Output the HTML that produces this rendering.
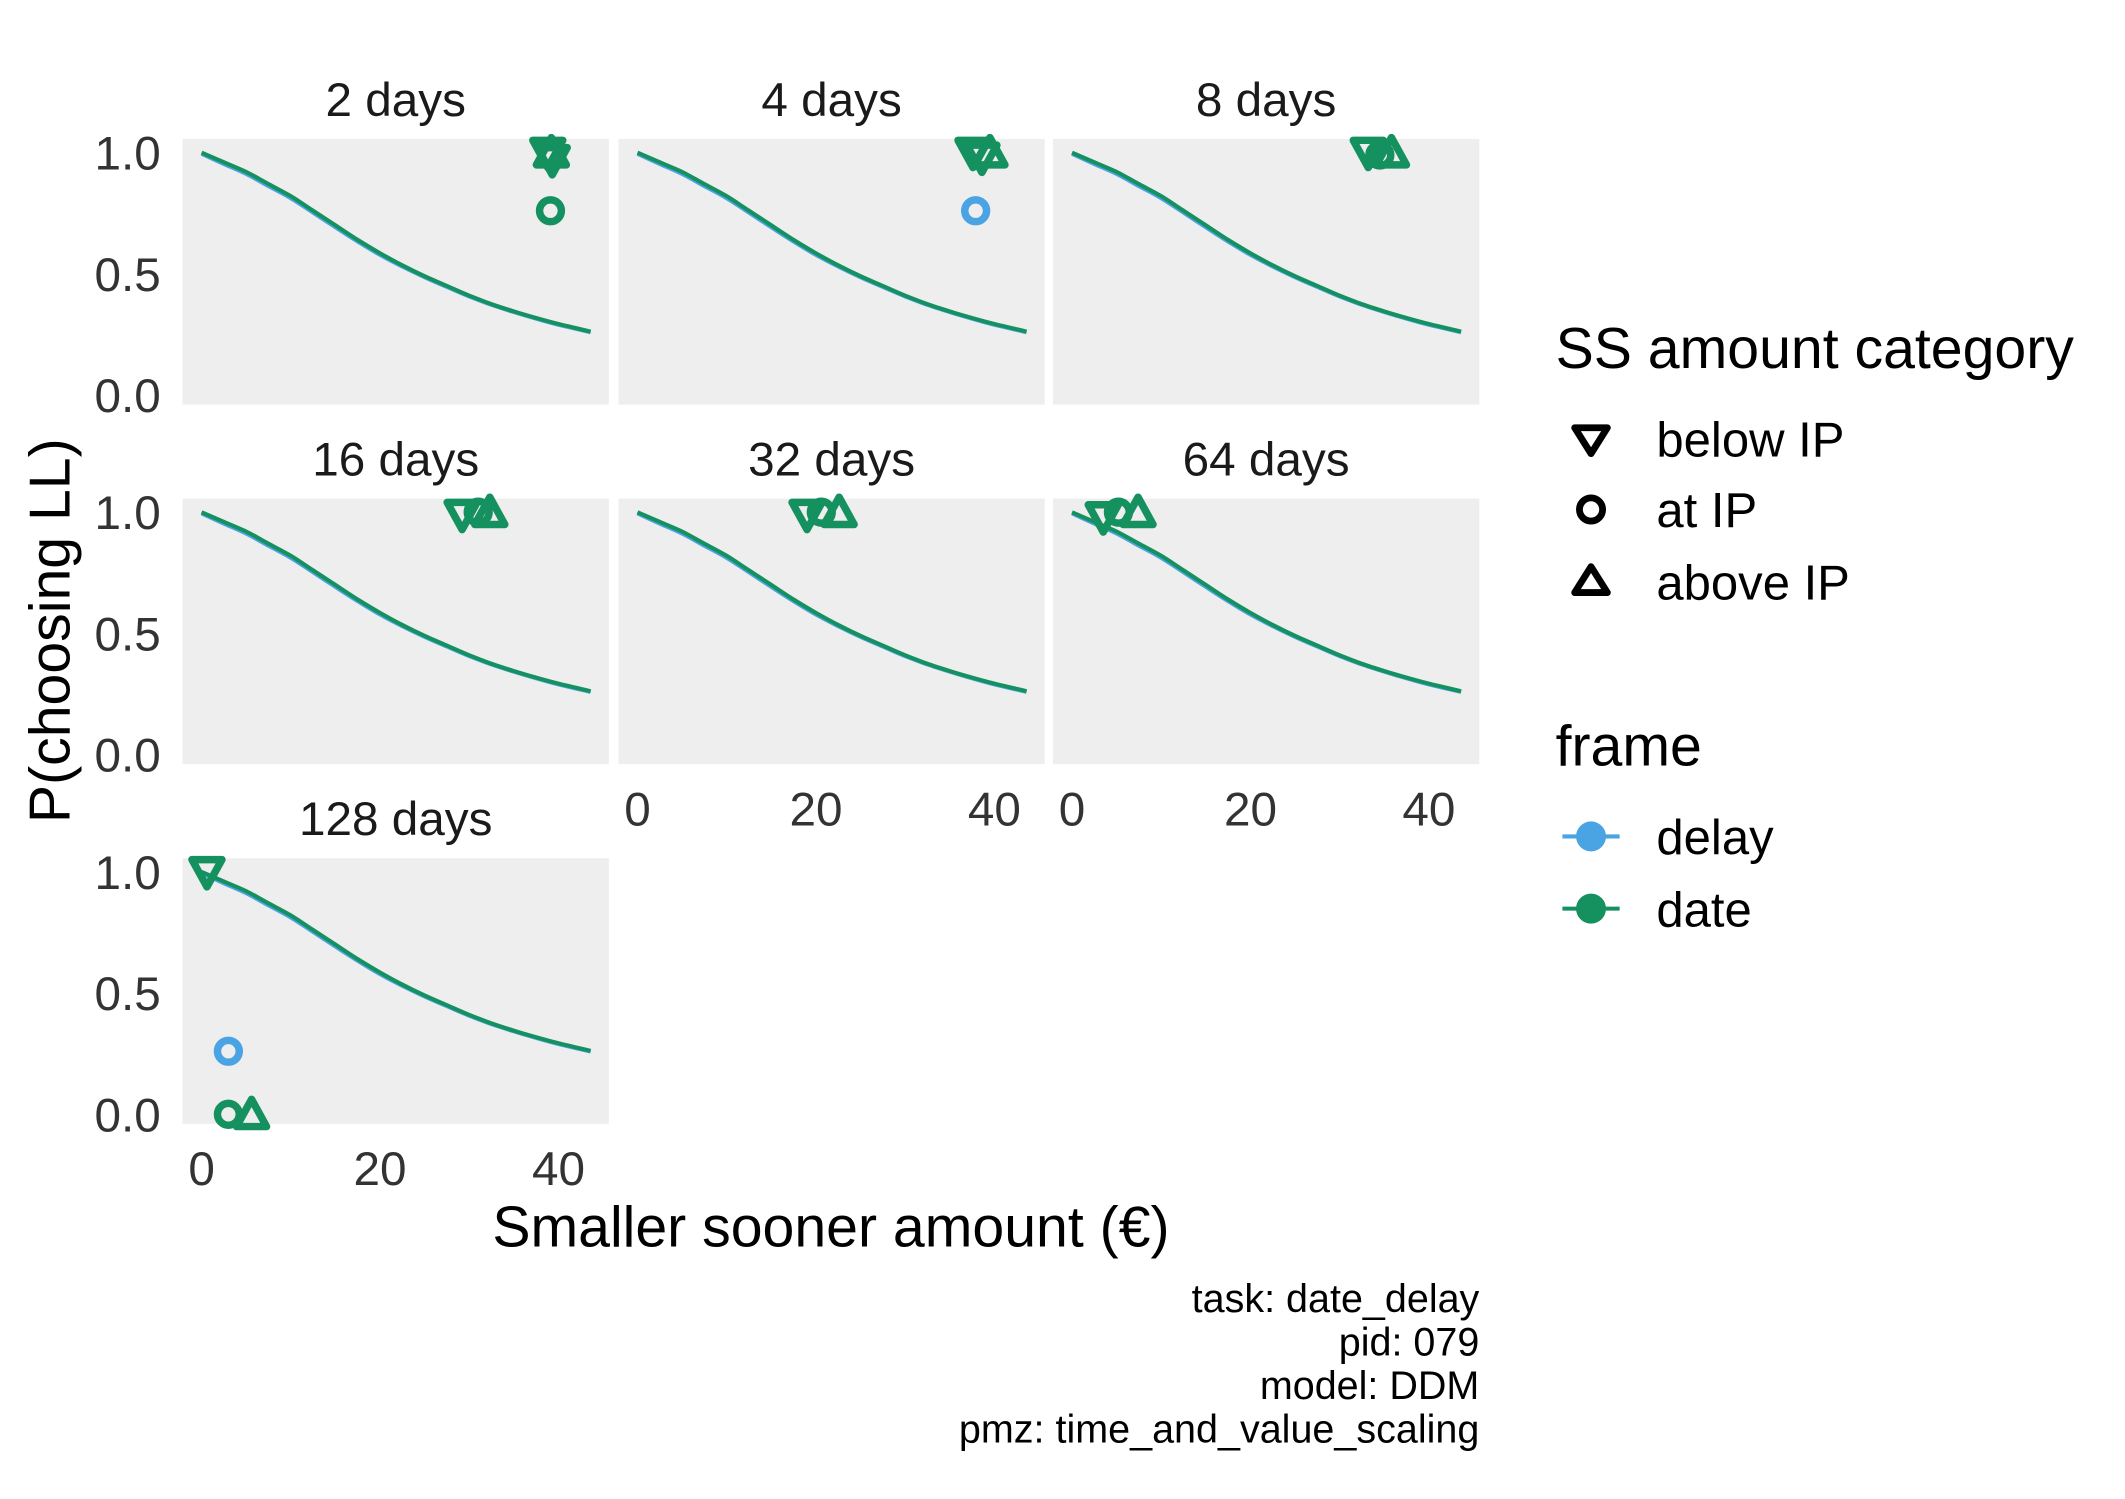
<!DOCTYPE html>
<html><head><meta charset="utf-8"><style>
html,body{margin:0;padding:0;background:#fff;}
svg{display:block;font-family:"Liberation Sans",Arial,sans-serif;}
</style></head><body>
<svg id="chart" width="2125" height="1499" viewBox="0 0 1560 1100.4" preserveAspectRatio="none" xmlns="http://www.w3.org/2000/svg">
<g id="panels"></g>
<text x="0" y="0" transform="translate(51,463) rotate(-90)" text-anchor="middle" font-size="42" fill="#000">P(choosing LL)</text>
<text x="610" y="915" text-anchor="middle" font-size="42" fill="#000">Smaller sooner amount (€)</text>
<g font-size="29" fill="#000" text-anchor="end">
<text x="1086" y="963">task: date_delay</text>
<text x="1086" y="995">pid: 079</text>
<text x="1086" y="1027">model: DDM</text>
<text x="1086" y="1059">pmz: time_and_value_scaling</text>
</g>
<g>
<text x="1142" y="270" font-size="42" fill="#000">SS amount category</text>
<path d="M1156,314 L1180,314 L1168,333 Z" fill="none" stroke="#000" stroke-width="5" stroke-linejoin="round"/>
<text x="1216" y="335" font-size="36">below IP</text>
<circle cx="1168" cy="374" r="8.5" fill="none" stroke="#000" stroke-width="5"/>
<text x="1216" y="387" font-size="36">at IP</text>
<path d="M1156,435 L1180,435 L1168,416 Z" fill="none" stroke="#000" stroke-width="5" stroke-linejoin="round"/>
<text x="1216" y="440" font-size="36">above IP</text>
</g>
<g>
<text x="1142" y="562" font-size="42" fill="#000">frame</text>
<line x1="1147" y1="614" x2="1189" y2="614" stroke="#4aa3e3" stroke-width="3"/>
<circle cx="1168" cy="614" r="11" fill="#4aa3e3"/>
<text x="1216" y="627" font-size="36">delay</text>
<line x1="1147" y1="667" x2="1189" y2="667" stroke="#15905f" stroke-width="3"/>
<circle cx="1168" cy="667" r="11" fill="#15905f"/>
<text x="1216" y="680" font-size="36">date</text>
</g>
</svg>
<script>
const panelLabels = ["2 days","4 days","8 days","16 days","32 days","64 days","128 days"];
const curveX = [0,2.5,5,7.5,10,12.5,15,17.5,20,22.5,25,27.5,30,32.5,35,37.5,40,43.6];
const curveDate = [1.0,0.96,0.92,0.87,0.82,0.76,0.70,0.64,0.585,0.535,0.49,0.45,0.41,0.375,0.345,0.318,0.293,0.262];
const curveDelay = [0.995,0.953,0.912,0.862,0.812,0.752,0.692,0.633,0.578,0.53,0.486,0.446,0.407,0.372,0.342,0.315,0.29,0.259];
// points: [panelIndex, x, p, shape, frame]
const ptPanel = [0,0,0,0, 1,1,1,1, 2,2,2, 3,3,3, 4,4,4, 5,5,5, 6,6,6,6];
const ptX =     [38.8,39.3,39.2,39.1, 37.6,38.6,37.9,39.5, 33.2,34.5,35.8, 29.2,31,32.3, 19,20.6,22.6, 3.5,5.2,7.4, 0.6,3,3,5.6];
const ptY =     [1.0,0.97,1.0,0.76, 1.0,0.98,0.76,1.0, 1.0,0.99,1.0, 0.99,1.0,1.0, 0.99,1.0,1.0, 0.98,1.0,1.0, 1.0,0.26,0.0,0.0];
const ptShape = ["down","down","up","circle", "down","down","circle","up", "down","circle","up", "down","circle","up", "down","circle","up", "down","circle","up", "down","circle","circle","up"];
const ptFrame = ["date","date","date","date", "date","date","delay","date", "date","date","date", "date","date","date", "date","date","date", "date","date","date", "date","delay","date","date"];
const xTicks = [0,20,40];
const yTicks = [0,0.5,1.0];

const NS="http://www.w3.org/2000/svg";
const colL=[134,454,773], colW=313, rowT=[102,366,630], rowH=195;
const COL={delay:"#4aa3e3",date:"#15905f"};
const g=document.getElementById('panels');
function mk(t,a,p){const e=document.createElementNS(NS,t);for(const k in a)e.setAttribute(k,a[k]);(p||g).appendChild(e);return e;}
function sx(i,v){return colL[i%3]+14+v*6.55;}
function sy(i,v){const t=rowT[Math.floor(i/3)];return t+188-v*178;}
function smooth(pts){
  let d='M'+pts[0][0].toFixed(1)+','+pts[0][1].toFixed(1);
  for(let k=0;k<pts.length-1;k++){
    const p0=pts[k-1]||pts[k],p1=pts[k],p2=pts[k+1],p3=pts[k+2]||p2;
    const c1=[p1[0]+(p2[0]-p0[0])/6,p1[1]+(p2[1]-p0[1])/6];
    const c2=[p2[0]-(p3[0]-p1[0])/6,p2[1]-(p3[1]-p1[1])/6];
    d+=` C${c1[0].toFixed(1)},${c1[1].toFixed(1)} ${c2[0].toFixed(1)},${c2[1].toFixed(1)} ${p2[0].toFixed(1)},${p2[1].toFixed(1)}`;
  }
  return d;
}
panelLabels.forEach((lab,i)=>{
  const c=i%3,r=Math.floor(i/3);
  const rect=mk('rect',{x:colL[c],y:rowT[r],width:colW,height:rowH,fill:"#eeeeee"});
  
  
  const st=mk('text',{x:colL[c]+colW/2,y:rowT[r]-17,'text-anchor':'middle','font-size':35,fill:'#1a1a1a'});
  st.textContent=lab;
  
  
  if(c===0){yTicks.forEach(v=>{const t=mk('text',{x:118,y:sy(i,v)+12.5,'text-anchor':'end','font-size':35,fill:'#333'});t.textContent=v.toFixed(1);
    
    });}
  const showX = (i>=4);
  if(showX){xTicks.forEach(v=>{const t=mk('text',{x:sx(i,v),y:rowT[r]+rowH+45,'text-anchor':'middle','font-size':35,fill:'#333'});t.textContent=v;
    
    });}
  [["delay",curveDelay],["date",curveDate]].forEach(([f,arr])=>{
    const pts=curveX.map((x,k)=>[sx(i,x),sy(i,arr[k])]);
    const p=mk('path',{d:smooth(pts),fill:'none',stroke:COL[f],'stroke-width':3});
    
    
  });
});
ptPanel.forEach((pi,k)=>{
  const x=sx(pi,ptX[k]),y=sy(pi,ptY[k]),col=COL[ptFrame[k]];
  let e;
  if(ptShape[k]==="circle"){e=mk('circle',{cx:x,cy:y,r:8,fill:'none',stroke:col,'stroke-width':5.5});}
  else if(ptShape[k]==="down"){e=mk('path',{d:`M${x-11},${y-9} L${x+11},${y-9} L${x},${y+11} Z`,fill:'none',stroke:col,'stroke-width':5.5,'stroke-linejoin':'round'});}
  else {e=mk('path',{d:`M${x-11},${y+9} L${x+11},${y+9} L${x},${y-11} Z`,fill:'none',stroke:col,'stroke-width':5.5,'stroke-linejoin':'round'});}
  
  
});
</script>
</body></html>
